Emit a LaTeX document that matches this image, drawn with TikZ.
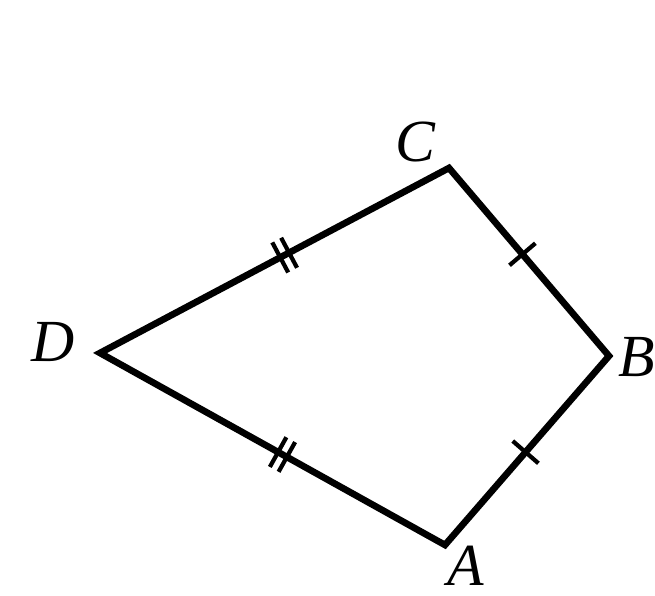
\documentclass[tikz,border=0pt]{standalone}
\usepackage{fontspec}
\setmainfont{Liberation Serif}
\usetikzlibrary{decorations.markings}
\tikzset{
  edge/.style={line width=1.9pt, line join=miter},
  lbl/.style={font=\fontsize{17}{20}\selectfont\itshape, inner sep=0pt},
  tickone/.style={postaction={decorate, decoration={markings,
     mark=at position #1 with {\draw[line width=1.2pt] (0,-0.17) -- (0,0.17);}}}},
  ticktwo/.style={postaction={decorate, decoration={markings,
     mark=at position #1 with {\draw[line width=1.2pt] (-0.05,-0.17) -- (-0.05,0.17) (0.05,-0.17) -- (0.05,0.17);}}}}
}
\begin{document}
\begin{tikzpicture}[x=1cm,y=-1cm]
\useasboundingbox (0,0) rectangle (6.55,5.96);
\coordinate (D) at (1.00,3.53);
\coordinate (C) at (4.49,1.68);
\coordinate (B) at (6.09,3.56);
\coordinate (A) at (4.45,5.45);
\draw[edge] (D) -- (C) -- (B) -- (A) -- cycle;
\path (D) -- (C) [ticktwo=0.53];
\path (D) -- (A) [ticktwo=0.53];
\path (C) -- (B) [tickone=0.46];
\path (B) -- (A) [tickone=0.51];
\node[lbl] (lD) at (0.53,3.42) {D};
\node[lbl] (lC) at (4.15,1.42) {C};
\node[lbl] (lB) at (6.37,3.57) {B};
\node[lbl] (lA) at (4.66,5.66) {A};
\end{tikzpicture}
\end{document}
